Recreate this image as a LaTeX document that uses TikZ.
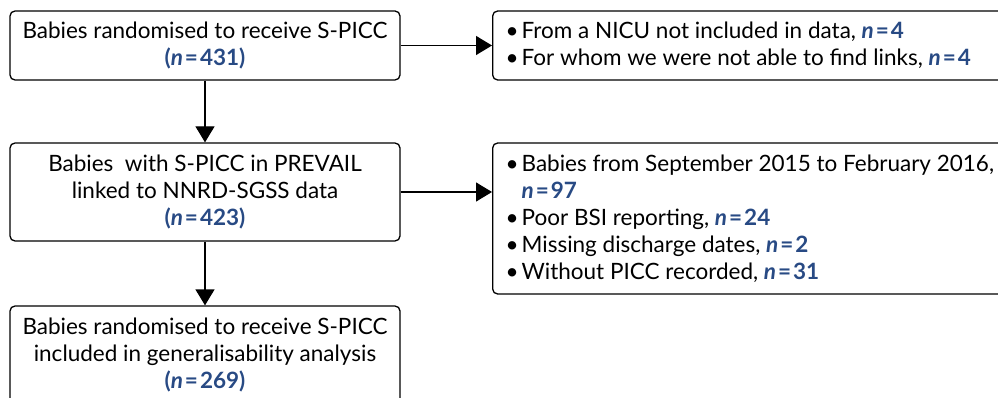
\documentclass[tikz,border=0pt]{standalone}
\usepackage{fontspec}
\setmainfont{Lato}
\usetikzlibrary{arrows.meta}
\definecolor{nblue}{RGB}{40,74,132}
\newcommand{\nval}[1]{{\color{nblue}\bfseries\textit{n}\kern2pt=\kern2pt#1}}
\newcommand{\pval}[1]{{\color{nblue}\bfseries(\textit{n}\kern2pt=\kern2pt#1)}}
\newcommand{\bul}{\makebox[16pt][l]{\textbullet}}
\begin{document}
\begin{tikzpicture}[x=1pt,y=-1pt,
  box/.style={draw=black,line width=1.3pt,rounded corners=5pt,font=\fontsize{22.5}{27}\selectfont},
  cbox/.style={box,minimum width=390pt,align=center,inner sep=0pt},
  lbox/.style={box,anchor=west,minimum width=540pt,text width=516pt,inner xsep=13pt,inner ysep=0pt,align=flush left},
  arr/.style={line width=1.3pt,-{Triangle[length=16pt,width=19pt]}}]
\useasboundingbox (0,0) rectangle (998,398);
\clip (0,0) rectangle (998,398);
\node[cbox,minimum height=69pt] (A) at (205,45.5) {Babies randomised to receive S-PICC\\\pval{431}};
\node[lbox,minimum height=69pt] (B) at (492,45.5) {\bul From a NICU not included in data, \nval{4}\\\bul For whom we were not able to find links, \nval{4}};
\node[cbox,minimum height=98pt] (C) at (205,192) {Babies\ \ with S-PICC in PREVAIL\\linked to NNRD-SGSS data\\\pval{423}};
\node[lbox,minimum height=151pt] (D) at (492,218.5) {\bul Babies from September 2015 to February 2016,\\\hspace*{16pt}\nval{97}\\\bul Poor BSI reporting, \nval{24}\\\bul Missing discharge dates, \nval{2}\\\bul Without PICC recorded, \nval{31}};
\node[cbox,minimum height=98pt] (E) at (205,355) {Babies randomised to receive S-PICC\\included in generalisability analysis\\\pval{269}};
\draw[arr] (A.east) -- (B.west);
\draw[arr] (C.east) -- (C.east -| D.west);
\draw[arr] (A.south) -- (C.north);
\draw[arr] (C.south) -- (E.north);
\end{tikzpicture}
\end{document}
